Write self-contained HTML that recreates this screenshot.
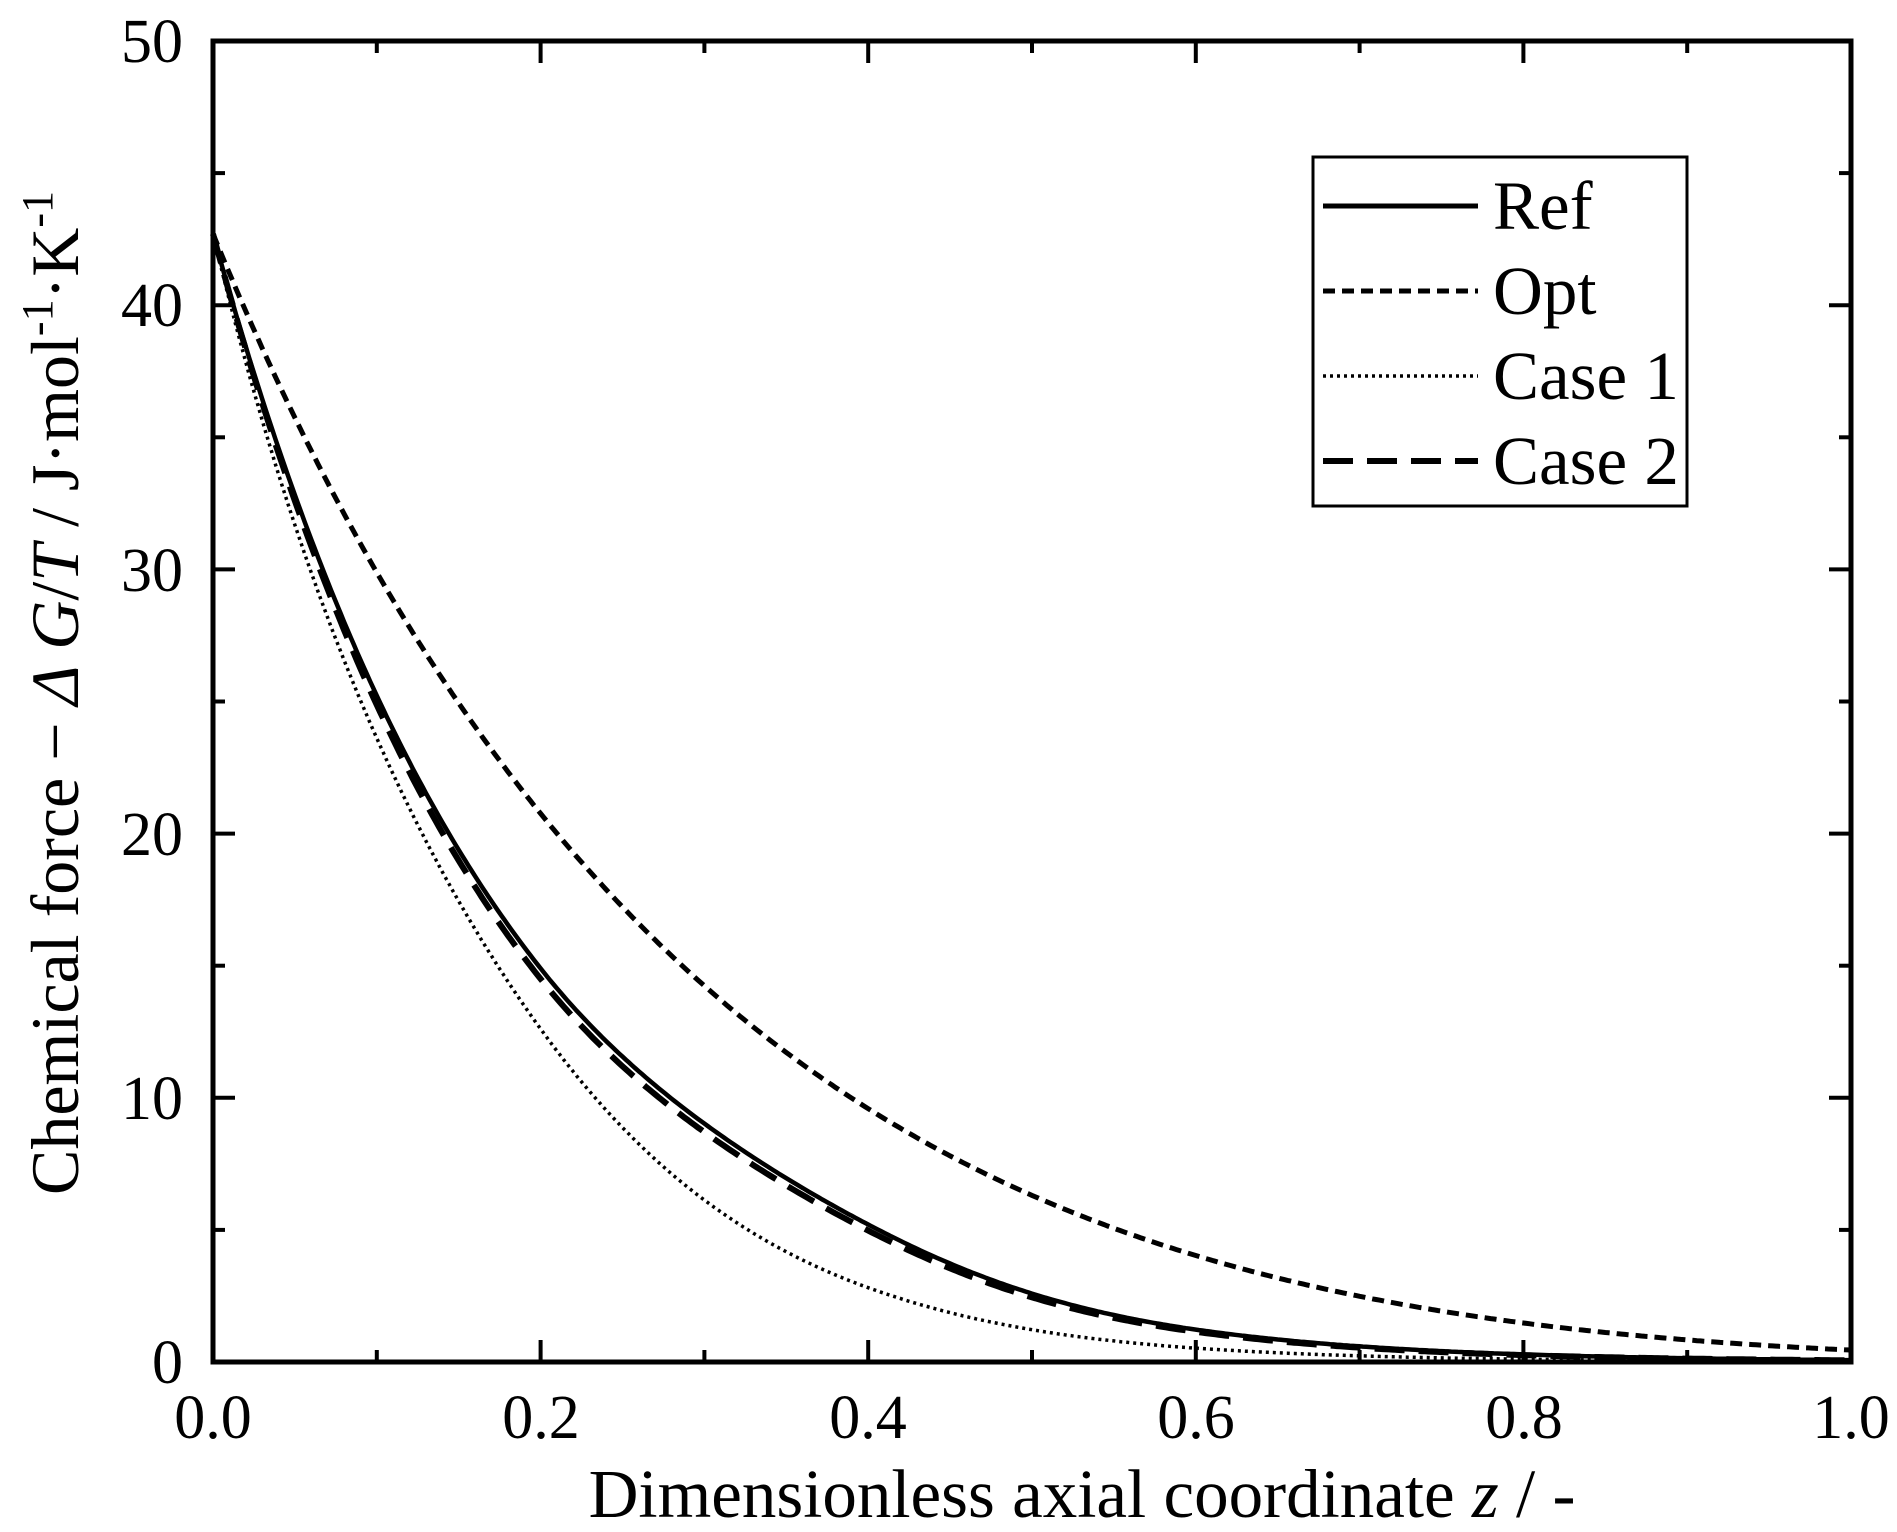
<!DOCTYPE html>
<html><head><meta charset="utf-8"><style>
html,body{margin:0;padding:0;background:#fff;}
svg text{font-family:"Liberation Serif",serif;fill:#000;}
</style></head><body>
<svg id="s" width="1897" height="1527" xmlns="http://www.w3.org/2000/svg">
<rect width="1897" height="1527" fill="#fff"/>
<g id="curves" fill="none" stroke="#000"></g>
<g id="ticks" stroke="#000" stroke-width="4"></g>
<rect x="213" y="41" width="1638" height="1321" fill="none" stroke="#000" stroke-width="5"/>
<g font-size="62" text-anchor="end">
<text x="183" y="1383">0</text>
<text x="183" y="1119">10</text>
<text x="183" y="855">20</text>
<text x="183" y="591">30</text>
<text x="183" y="326">40</text>
<text x="183" y="62">50</text>
</g>
<g font-size="62" text-anchor="middle">
<text x="213" y="1438">0.0</text>
<text x="541" y="1438">0.2</text>
<text x="868" y="1438">0.4</text>
<text x="1196" y="1438">0.6</text>
<text x="1524" y="1438">0.8</text>
<text x="1851" y="1438">1.0</text>
</g>
<text x="1082" y="1517" font-size="69" text-anchor="middle">Dimensionless axial coordinate <tspan font-style="italic">z</tspan> / -</text>
<text transform="translate(78,693) rotate(-90)" font-size="68" text-anchor="middle">Chemical force − <tspan font-style="italic">Δ G</tspan>/<tspan font-style="italic">T</tspan> / J·mol<tspan font-size="44" dy="-26">-1</tspan><tspan dy="26">·K</tspan><tspan font-size="44" dy="-26">-1</tspan></text>
<rect x="1313" y="157" width="374" height="349" fill="#fff" stroke="#000" stroke-width="3"/>
<g stroke="#000" fill="none">
<line x1="1323" y1="206" x2="1478" y2="206" stroke-width="5"/>
<line x1="1323" y1="291" x2="1478" y2="291" stroke-width="5" stroke-dasharray="12,7"/>
<line x1="1323" y1="376" x2="1478" y2="376" stroke-width="3.5" stroke-dasharray="3,4"/>
<line x1="1323" y1="461" x2="1478" y2="461" stroke-width="6" stroke-dasharray="30,14"/>
</g>
<g font-size="69">
<text x="1493" y="229">Ref</text>
<text x="1493" y="314">Opt</text>
<text x="1493" y="399">Case 1</text>
<text x="1493" y="484">Case 2</text>
</g>
</svg>
<script>
var X0=213,X1=1851,Y0=1362,YU=1321/50;
function px(z){return X0+z*(X1-X0);} function py(v){return Y0-v*YU;}
function cr(P,z){var n=P.length-1;var i=Math.min(n-1,Math.floor(z*n/1.0));var t=z*n-i;
var p0=P[Math.max(0,i-1)],p1=P[i],p2=P[i+1],p3=P[Math.min(n,i+2)];
if(i==0)p0=2*p1-p2; if(i+2>n)p3=2*p2-p1;
return 0.5*((2*p1)+(-p0+p2)*t+(2*p0-5*p1+4*p2-p3)*t*t+(-p0+3*p1-3*p2+p3)*t*t*t);}
function mk(A){return function(z){return 42.7*Math.exp(-cr(A,z));};}
var series=[
 [mk([0,1.053,2.105,3.55,5.0,6.4]),"4.5",""],
 [function(z){return 42.7*Math.exp(-(3.55*z+0.1*z*z+0.9*z*z*z));},"5","12,7"],
 [mk([0,1.22,2.72,4.4,6.0,7.5]),"3.5","3,4"],
 [mk([0,1.08,2.15,3.62,5.1,6.5]),"6","30,14"]];
var g=document.getElementById("curves"),ns="http://www.w3.org/2000/svg";
series.forEach(function(s){var d="";for(var i=0;i<=500;i++){var z=i/500;d+=(i?"L":"M")+px(z).toFixed(1)+","+py(s[0](z)).toFixed(1);}
var p=document.createElementNS(ns,"path");p.setAttribute("d",d);p.setAttribute("stroke-width",s[1]);if(s[2])p.setAttribute("stroke-dasharray",s[2]);g.appendChild(p);});
var t=document.getElementById("ticks");
function ln(a,b,c,d){var l=document.createElementNS(ns,"line");l.setAttribute("x1",a);l.setAttribute("y1",b);l.setAttribute("x2",c);l.setAttribute("y2",d);t.appendChild(l);}
for(var i=1;i<10;i++){var x=px(i/10),L=(i%2==0)?22:12;ln(x,Y0,x,Y0-L);ln(x,41,x,41+L);}
for(var j=1;j<10;j++){var y=Y0-j*5*YU,L=(j%2==0)?22:12;ln(X0,y,X0+L,y);ln(X1,y,X1-L,y);}
</script>
</body></html>
